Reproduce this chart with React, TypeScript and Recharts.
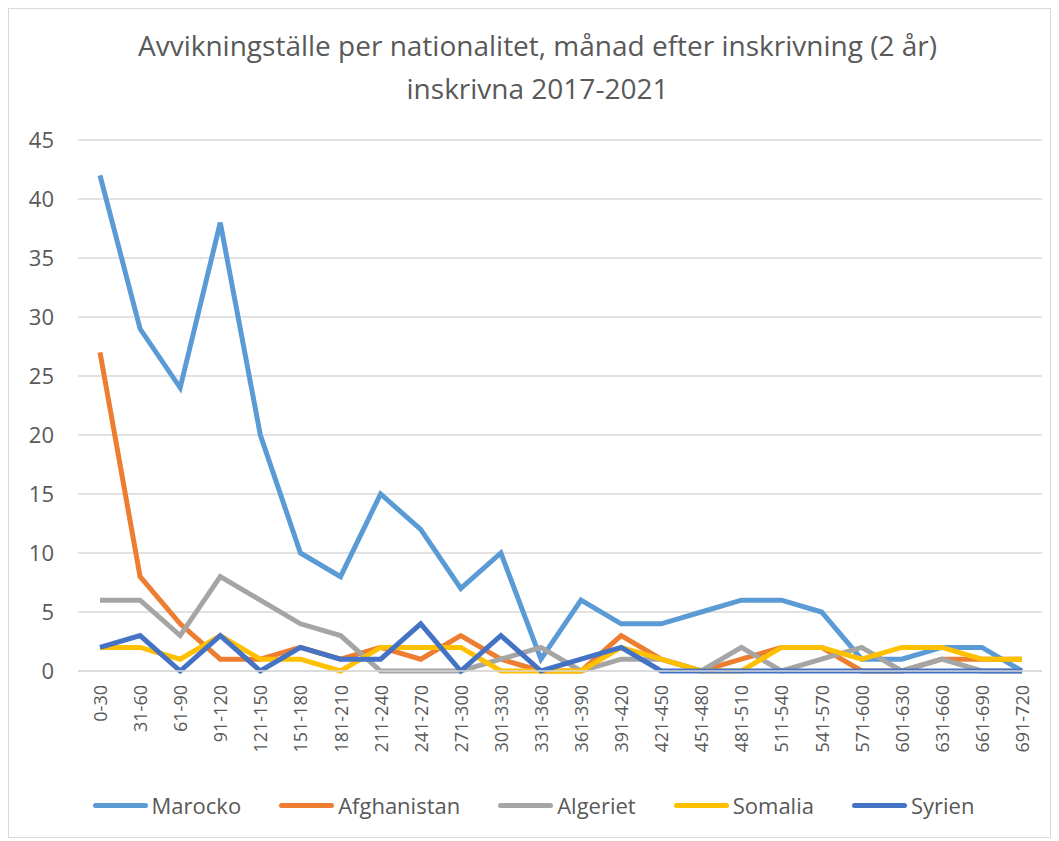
import React from "react";
import { LineChart, Line, XAxis, YAxis, CartesianGrid } from "recharts";

const categories = [
  "0-30", "31-60", "61-90", "91-120", "121-150", "151-180", "181-210", "211-240",
  "241-270", "271-300", "301-330", "331-360", "361-390", "391-420", "421-450", "451-480",
  "481-510", "511-540", "541-570", "571-600", "601-630", "631-660", "661-690", "691-720",
];

const marocko = [42, 29, 24, 38, 20, 10, 8, 15, 12, 7, 10, 1, 6, 4, 4, 5, 6, 6, 5, 1, 1, 2, 2, 0];
const afghanistan = [27, 8, 4, 1, 1, 2, 1, 2, 1, 3, 1, 0, 0, 3, 1, 0, 1, 2, 2, 0, 0, 1, 1, 1];
const algeriet = [6, 6, 3, 8, 6, 4, 3, 0, 0, 0, 1, 2, 0, 1, 1, 0, 2, 0, 1, 2, 0, 1, 0, 0];
const somalia = [2, 2, 1, 3, 1, 1, 0, 2, 2, 2, 0, 0, 0, 2, 1, 0, 0, 2, 2, 1, 2, 2, 1, 1];
const syrien = [2, 3, 0, 3, 0, 2, 1, 1, 4, 0, 3, 0, 1, 2, 0, 0, 0, 0, 0, 0, 0, 0, 0, 0];

const yTicks = [0, 5, 10, 15, 20, 25, 30, 35, 40, 45];

const series = [
  { key: "Marocko", color: "#5B9BD5" },
  { key: "Afghanistan", color: "#ED7D31" },
  { key: "Algeriet", color: "#A5A5A5" },
  { key: "Somalia", color: "#FFC000" },
  { key: "Syrien", color: "#4472C4" },
];

const data = categories.map((name, i) => ({
  name,
  Marocko: marocko[i],
  Afghanistan: afghanistan[i],
  Algeriet: algeriet[i],
  Somalia: somalia[i],
  Syrien: syrien[i],
}));

const font = "'Open Sans', 'Noto Sans', sans-serif";
const grey = "#595959";

function XTick(props: any) {
  const { x, y, payload } = props;
  return (
    <text
      x={0}
      y={0}
      transform={`translate(${x + 7},${y + 6}) rotate(-90)`}
      textAnchor="end"
      fill={grey}
      fontSize={18}
      fontFamily={font}
    >
      {payload.value}
    </text>
  );
}

export default function App() {
  return (
    <div
      style={{
        position: "relative",
        width: 1041,
        height: 828,
        border: "1px solid #d9d9d9",
        background: "#fff",
        fontFamily: font,
      }}
    >
      <div
        style={{
          position: "absolute",
          top: 15,
          left: 8,
          width: 1041,
          textAlign: "center",
          fontSize: 28,
          lineHeight: "43px",
          color: grey,
        }}
      >
        Avvikningställe per nationalitet, månad efter inskrivning (2 år)
        <br />
        inskrivna 2017-2021
      </div>
      <LineChart
        width={1041}
        height={828}
        data={data}
        margin={{ top: 131, right: 8, left: 19, bottom: 68 }}
      >
        <CartesianGrid vertical={false} stroke="#d9d9d9" strokeWidth={1.5} />
        <XAxis
          dataKey="name"
          interval={0}
          height={98}
          padding={{ left: 22, right: 20 }}
          tick={<XTick />}
          tickLine={false}
          axisLine={{ stroke: "#d9d9d9", strokeWidth: 1.5 }}
        />
        <YAxis
          domain={[0, 45]}
          ticks={yTicks}
          width={50}
          tick={{ fill: grey, fontSize: 22, fontFamily: font, dx: -16 }}
          tickLine={false}
          axisLine={false}
        />
        {series.map((s) => (
          <Line
            key={s.key}
            type="linear"
            dataKey={s.key}
            stroke={s.color}
            strokeWidth={5}
            dot={false}
            isAnimationActive={false}
          />
        ))}
      </LineChart>
      <div
        style={{
          position: "absolute",
          top: 781,
          left: 4,
          width: 1041,
          display: "flex",
          justifyContent: "center",
          gap: 38,
          fontSize: 22,
          lineHeight: "30px",
          color: grey,
        }}
      >
        {series.map((s) => (
          <div key={s.key} style={{ display: "flex", alignItems: "center" }}>
            <span
              style={{
                display: "inline-block",
                width: 55,
                height: 5,
                borderRadius: 3,
                background: s.color,
                marginRight: 4,
              }}
            />
            {s.key}
          </div>
        ))}
      </div>
    </div>
  );
}
